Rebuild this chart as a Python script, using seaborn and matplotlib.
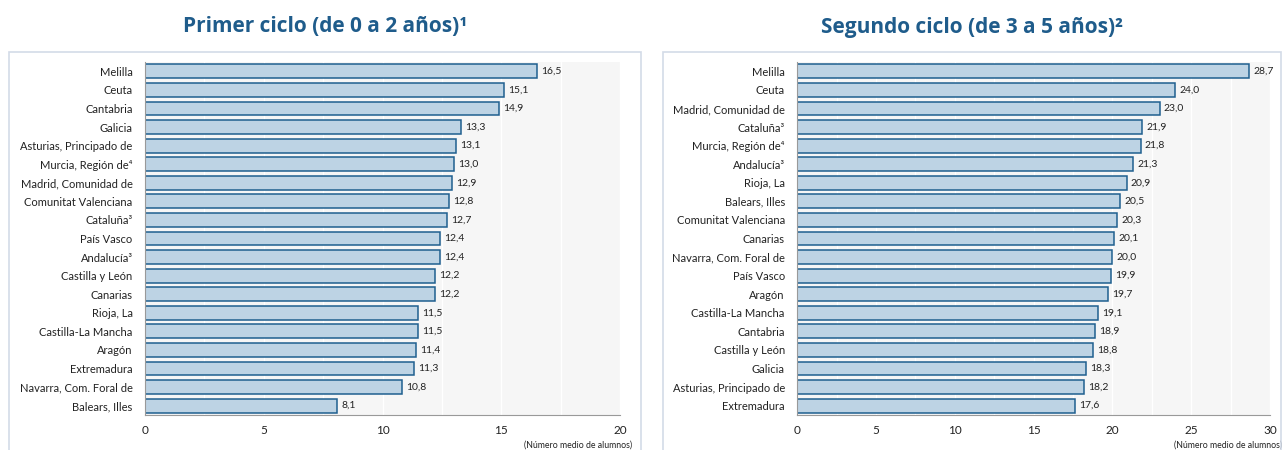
import matplotlib.pyplot as plt
import matplotlib.patches as patches
from matplotlib.ticker import MultipleLocator
import pandas as pd
import seaborn as sns

# Primer ciclo (0-2 años)
cat_1 = ['Melilla', 'Ceuta', 'Cantabria', 'Galicia', 'Asturias, Principado de',
         'Murcia, Región de⁴', 'Madrid, Comunidad de', 'Comunitat Valenciana',
         'Cataluña³', 'País Vasco', 'Andalucía³', 'Castilla y León', 'Canarias',
         'Rioja, La', 'Castilla-La Mancha', 'Aragón', 'Extremadura',
         'Navarra, Com. Foral de', 'Balears, Illes']
val_1 = [16.5, 15.1, 14.9, 13.3, 13.1, 13.0, 12.9, 12.8, 12.7, 12.4, 12.4,
         12.2, 12.2, 11.5, 11.5, 11.4, 11.3, 10.8, 8.1]

# Segundo ciclo (3-5 años)
cat_2 = ['Melilla', 'Ceuta', 'Madrid, Comunidad de', 'Cataluña³', 'Murcia, Región de⁴',
         'Andalucía³', 'Rioja, La', 'Balears, Illes', 'Comunitat Valenciana',
         'Canarias', 'Navarra, Com. Foral de', 'País Vasco', 'Aragón',
         'Castilla-La Mancha', 'Cantabria', 'Castilla y León', 'Galicia',
         'Asturias, Principado de', 'Extremadura']
val_2 = [28.7, 24.0, 23.0, 21.9, 21.8, 21.3, 20.9, 20.5, 20.3, 20.1, 20.0,
         19.9, 19.7, 19.1, 18.9, 18.8, 18.3, 18.2, 17.6]

titles = ['Primer ciclo (de 0 a 2 años)¹', 'Segundo ciclo (de 3 a 5 años)²']
xmax = [20, 30]

sns.set_theme(style='white')
plt.rcParams['font.family'] = ['Lato', 'DejaVu Sans']

fill = '#bdd3e4'
edge = '#1f5f8f'
title_col = '#1f5c8b'

fig = plt.figure(figsize=(12.84, 4.5), dpi=100)

axes_pos = [[0.113, 0.078, 0.370, 0.784], [0.621, 0.078, 0.368, 0.784]]
frames = [(0.007, 0.499), (0.516, 0.998)]

for i, (cats, vals) in enumerate([(cat_1, val_1), (cat_2, val_2)]):
    # panel frame (open at the bottom like the original)
    x0, x1 = frames[i]
    fig.patches.append(patches.Rectangle((x0, -0.05), x1 - x0, 0.934,
                                         transform=fig.transFigure, fill=False,
                                         edgecolor='#d3dbe8', linewidth=1.2))
    fig.text((x0 + x1) / 2, 0.94, titles[i], ha='center', va='center',
             fontsize=15, fontweight='bold', color=title_col,
             family=['Open Sans', 'DejaVu Sans'])

    ax = fig.add_axes(axes_pos[i])
    df = pd.DataFrame({'cat': cats, 'val': vals})
    sns.barplot(data=df, x='val', y='cat', orient='h', ax=ax, color=fill,
                edgecolor=edge, linewidth=1.1, width=0.75, saturation=1)
    ax.set_facecolor('#f6f6f6')
    ax.set_xlim(0, xmax[i])
    ax.set_ylim(len(cats) - 0.5, -0.5)
    ax.xaxis.set_major_locator(MultipleLocator(5))
    ax.xaxis.set_minor_locator(MultipleLocator(2.5))
    ax.grid(axis='x', which='both', color='white', linewidth=1)
    ax.set_axisbelow(True)
    ax.set_yticks(range(len(cats)))
    ax.set_yticks([k + 0.5 for k in range(-1, len(cats))], minor=True)
    ax.tick_params(axis='y', which='major', length=0, labelsize=8, pad=9, labelcolor='#222222')
    ax.tick_params(axis='y', which='minor', length=4, color='#999999', width=0.8, direction='out')
    ax.tick_params(axis='x', which='major', length=4, color='#999999', labelsize=8.5, labelcolor='#222222')
    ax.tick_params(axis='x', which='minor', length=0)
    for s in ['top', 'right']:
        ax.spines[s].set_visible(False)
    for s in ['left', 'bottom']:
        ax.spines[s].set_color('#999999')
        ax.spines[s].set_linewidth(0.8)
    ax.set_xlabel('')
    ax.set_ylabel('')
    ax.bar_label(ax.containers[0], labels=[f'{v:.1f}'.replace('.', ',') for v in vals],
                 padding=3, fontsize=7.5, color='#222222')
    ax.text(1.025, -0.085, '(Número medio de alumnos)', transform=ax.transAxes,
            ha='right', va='center', fontsize=6.3, color='#222222')

fig.savefig('out.png', dpi=100)
